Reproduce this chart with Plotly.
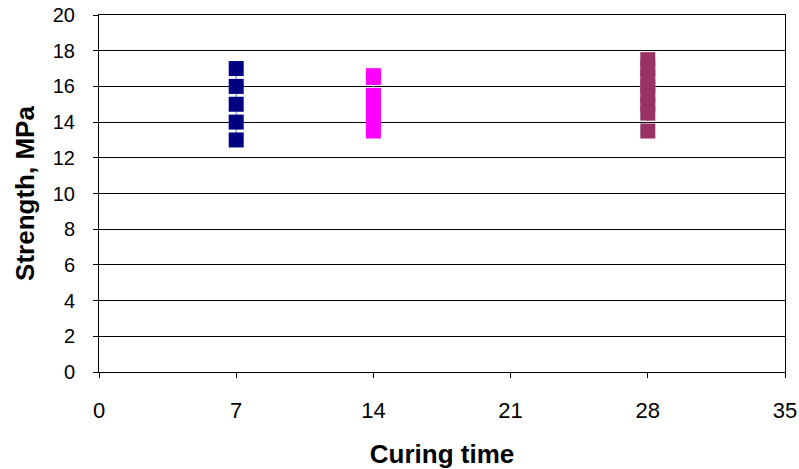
import plotly.graph_objects as go

# Data
x7 = [7, 7, 7, 7, 7]
y7 = [17, 16, 15, 14, 13]
x14 = [14, 14, 14, 14, 14, 14, 14]
y14 = [16.6, 16.5, 15.5, 15, 14.5, 14, 13.5]
x28 = [28, 28, 28, 28, 28, 28, 28, 28]
y28 = [17.5, 17, 16.5, 16, 15.5, 15, 14.5, 13.5]

series = [
    ("7 days", x7, y7, "#000080", "#6a6ac0"),
    ("14 days", x14, y14, "#FF00FF", "#ff9cff"),
    ("28 days", x28, y28, "#993366", "#d27aa6"),
]

x_ticks = [0, 7, 14, 21, 28, 35]
y_ticks = [0, 2, 4, 6, 8, 10, 12, 14, 16, 18, 20]

fig = go.Figure()
for name, xs, ys, col, lcol in series:
    fig.add_trace(go.Scatter(
        x=xs, y=ys, name=name, mode="lines+markers",
        line=dict(color=lcol, width=1),
        marker=dict(symbol="square", size=15, color=col, line=dict(width=0)),
        showlegend=False, cliponaxis=False,
    ))

font = "Liberation Sans, Arial, sans-serif"
fig.update_layout(
    width=799, height=469,
    margin=dict(l=99, r=14, t=15, b=97, autoexpand=False),
    paper_bgcolor="white", plot_bgcolor="white",
    font=dict(family=font, size=20, color="black"),
    xaxis=dict(
        range=[0, 35], tickvals=x_ticks, ticks="outside", ticklen=5,
        tickcolor="black", showline=True, linecolor="black", linewidth=1,
        mirror=True, showgrid=False, zeroline=False, automargin=False,
        tickfont=dict(size=22), ticklabelstandoff=14,
        title=dict(text="<b>Curing time</b>", font=dict(size=26), standoff=24),
    ),
    yaxis=dict(
        range=[0, 20], tickvals=y_ticks, ticks="outside", ticklen=5,
        tickcolor="black", showline=True, linecolor="black", linewidth=1,
        mirror=True, showgrid=True, gridcolor="black", gridwidth=1,
        zeroline=False, automargin=False, tickfont=dict(size=20),
        ticklabelstandoff=14,
        title=dict(text="<b>Strength, MPa</b>", font=dict(size=26), standoff=10),
    ),
)

fig.write_html("out.html", config={"displayModeBar": False},
               post_script="document.body.style.margin='0';")
